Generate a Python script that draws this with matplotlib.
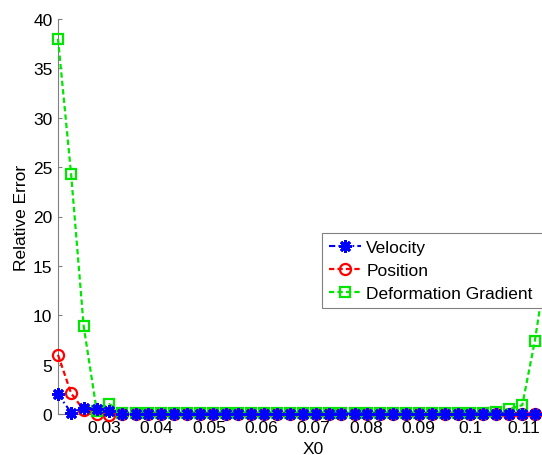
import numpy as np
import matplotlib.pyplot as plt

plt.rcParams['font.family'] = ['Liberation Sans', 'DejaVu Sans']

# node positions along X0 (last one lies just past the visible edge)
x0 = [0.0212, 0.0237, 0.0261, 0.0286, 0.0310, 0.0335, 0.0360, 0.0384, 0.0409,
      0.0433, 0.0458, 0.0483, 0.0507, 0.0532, 0.0556, 0.0581, 0.0606, 0.0630,
      0.0655, 0.0679, 0.0704, 0.0729, 0.0753, 0.0778, 0.0802, 0.0827, 0.0852,
      0.0876, 0.0901, 0.0925, 0.0950, 0.0975, 0.0999, 0.1024, 0.1048, 0.1073,
      0.1098, 0.1122, 0.1147]

velocity = [2.0, 0.15, 0.6, 0.5, 0.3, 0.05, 0.05, 0.05, 0.05, 0.05, 0.05, 0.05,
            0.05, 0.05, 0.05, 0.05, 0.05, 0.05, 0.05, 0.05, 0.05, 0.05, 0.05,
            0.05, 0.05, 0.05, 0.05, 0.05, 0.05, 0.05, 0.05, 0.05, 0.05, 0.05,
            0.05, 0.05, 0.05, 0.05, 0.05]

position = [6.0, 2.1, 0.4, 0.0, -0.1, 0.0, 0.0, 0.0, 0.0, 0.0, 0.0, 0.0, 0.0,
            0.0, 0.0, 0.0, 0.0, 0.0, 0.0, 0.0, 0.0, 0.0, 0.0, 0.0, 0.0, 0.0,
            0.0, 0.0, 0.0, 0.0, 0.0, 0.0, 0.0, 0.0, 0.0, 0.0, 0.0, 0.05, 0.1]

deform = [38.0, 24.3, 8.9, 0.3, 1.0, 0.15, 0.15, 0.15, 0.15, 0.15, 0.15, 0.15,
          0.15, 0.15, 0.15, 0.15, 0.15, 0.15, 0.15, 0.15, 0.15, 0.15, 0.15,
          0.15, 0.15, 0.15, 0.15, 0.15, 0.15, 0.15, 0.15, 0.15, 0.15, 0.15,
          0.25, 0.5, 0.9, 7.4, 16.0]

xticks = [0.03, 0.04, 0.05, 0.06, 0.07, 0.08, 0.09, 0.1, 0.11]
xticklabels = ['0.03', '0.04', '0.05', '0.06', '0.07', '0.08', '0.09', '0.1', '0.11']
yticks = [0, 5, 10, 15, 20, 25, 30, 35, 40]

fs = 12.5

fig = plt.figure(figsize=(5.42, 4.56), dpi=100)
# axes run past the right border, the original picture is cropped there
ax = fig.add_axes([58 / 542, 1 - 415 / 456, 511 / 542, 395 / 456])

ax.plot(x0, velocity, color='blue', linestyle='-.', dashes=(3, 1.5, 0.8, 1.5), lw=1.5,
        marker=(8, 2, 0), ms=9, mew=2, label='Velocity', zorder=4, clip_on=False)
ax.plot(x0, position, color='red', linestyle='--', dashes=(2.4, 1.4), lw=1.6,
        marker='o', ms=8, mew=1.6, mfc='none', label='Position', zorder=3, clip_on=False)
ax.plot(x0, deform, color='#00e600', linestyle='--', dashes=(2.4, 1.4), lw=1.6,
        marker='s', ms=7, mew=1.6, mfc='none', label='Deformation Gradient',
        zorder=3, clip_on=False)

ax.set_xlim(0.0212, 0.0212 + 511 / 5240)
ax.set_ylim(0, 40)
ax.set_xticks(xticks)
ax.set_xticklabels(xticklabels)
ax.set_yticks(yticks)
ax.tick_params(direction='in', length=3, width=0.8, color='#808080',
               labelsize=fs, pad=4)

for s in ['top', 'right']:
    ax.spines[s].set_visible(False)
for s in ['left', 'bottom']:
    ax.spines[s].set_color('#808080')
    ax.spines[s].set_linewidth(0.8)

ax.set_xlabel('X0', fontsize=fs, labelpad=5)
ax.set_ylabel('Relative Error', fontsize=fs, labelpad=3)

# legend box runs off the right edge like in the cropped original
leg = ax.legend(loc='upper left',
                bbox_to_anchor=(322 / 542, 1 - 308 / 456, 240 / 542, 74 / 456),
                bbox_transform=fig.transFigure, mode='expand', fontsize=fs,
                fancybox=False, edgecolor='#808080', framealpha=1,
                handlelength=1.85, handletextpad=0.3, borderpad=0.4,
                labelspacing=0.45, borderaxespad=0)
leg.get_frame().set_linewidth(0.8)

fig.savefig('out.png', dpi=100)
